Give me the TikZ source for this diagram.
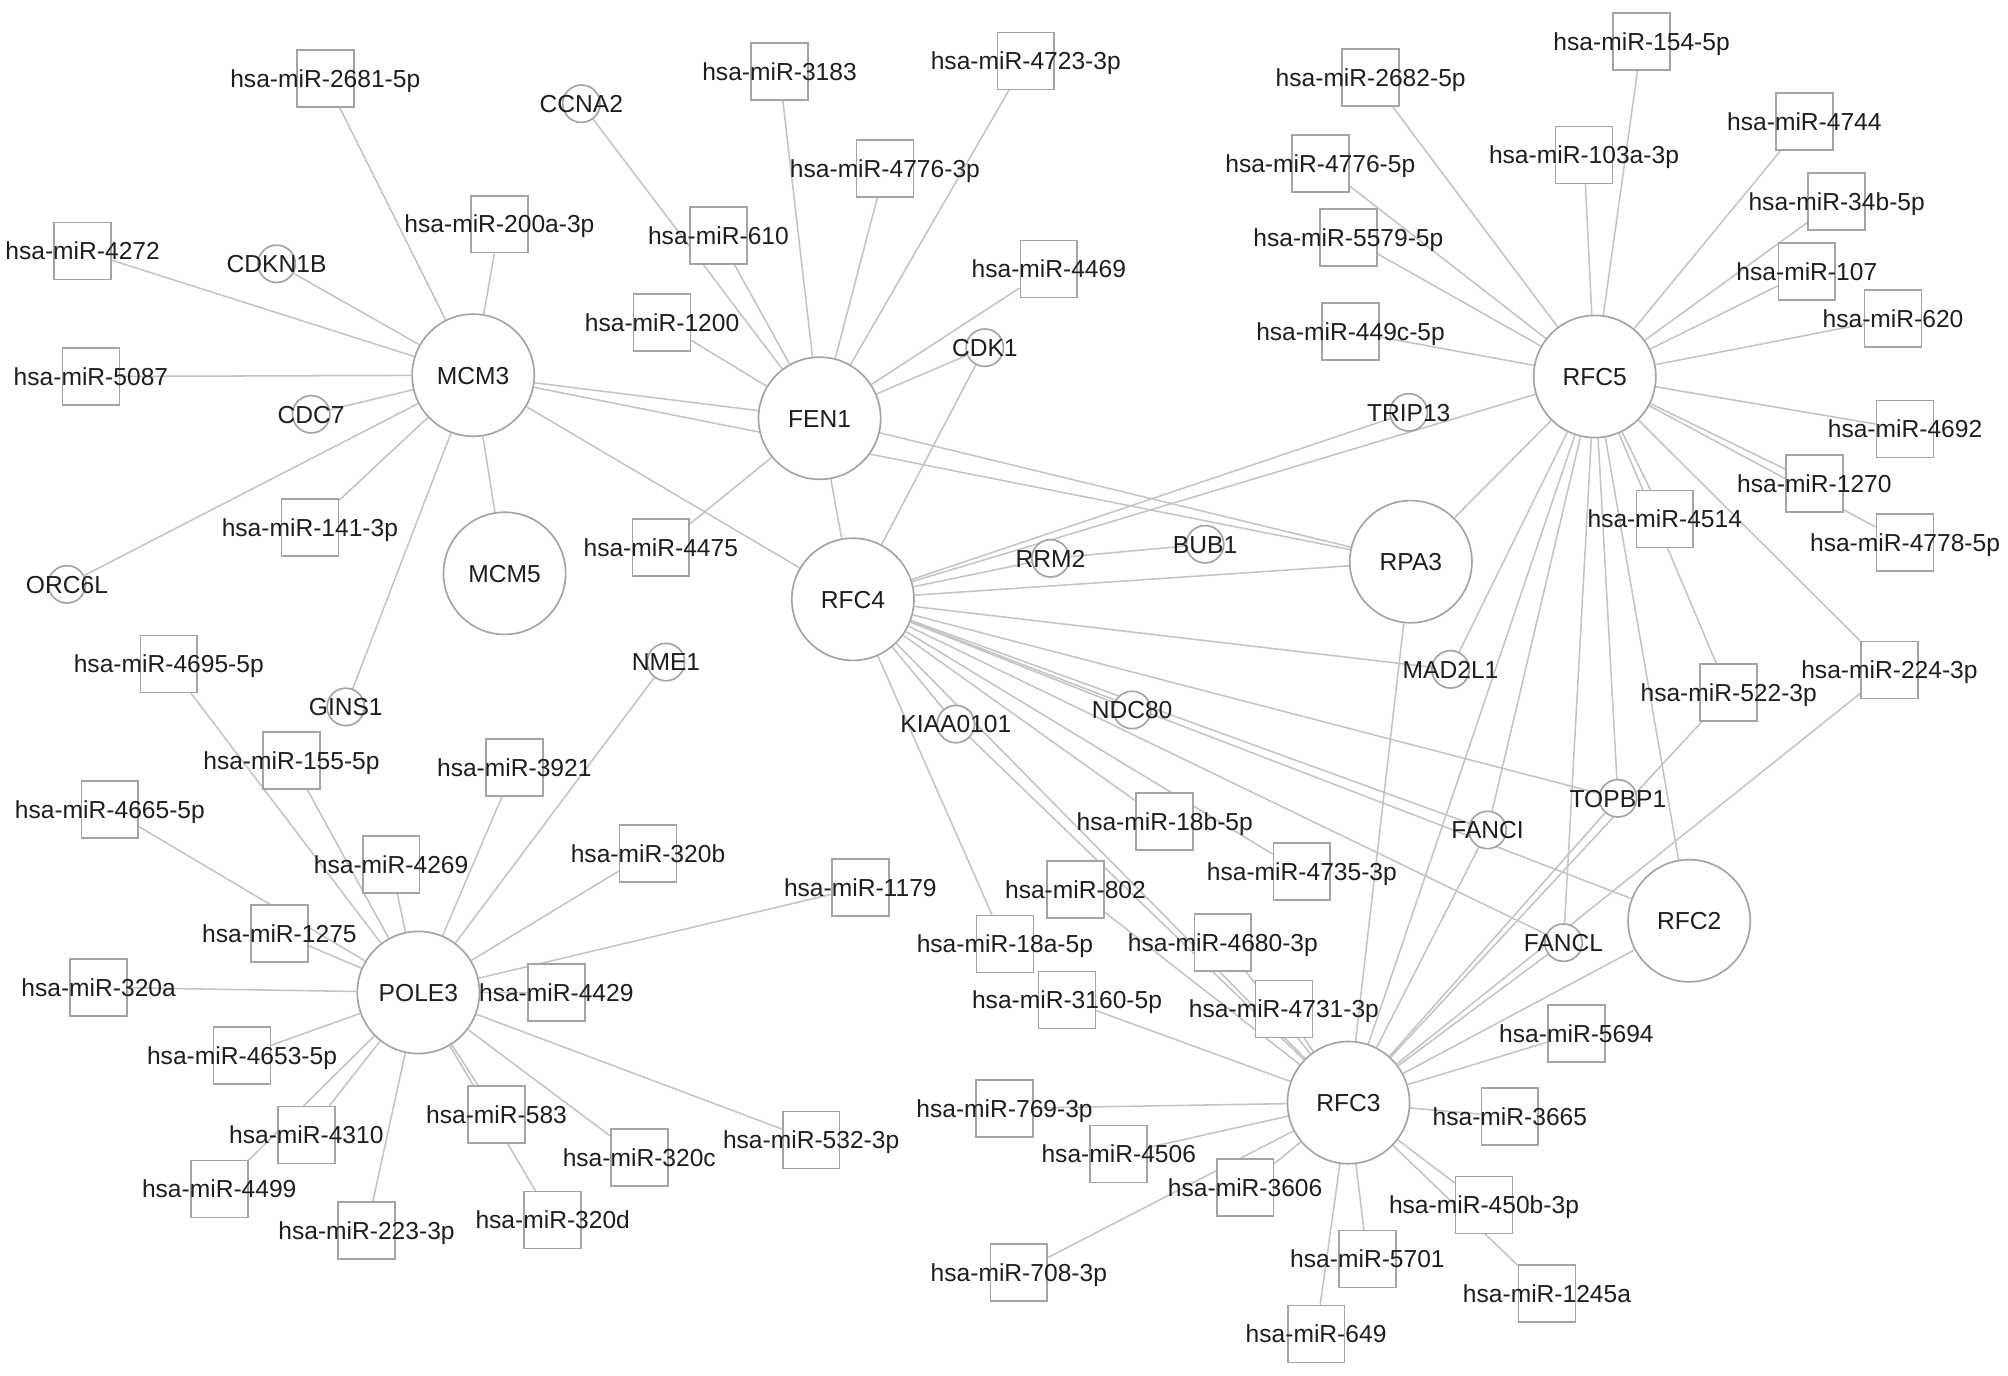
\documentclass[tikz,border=0pt]{standalone}
\usepackage{fontspec}
\setmainfont{Liberation Sans}
\definecolor{ndgray}{HTML}{A4A4A4}
\definecolor{edgray}{HTML}{C4C4C4}
\definecolor{txtgray}{HTML}{1E1E1E}
\pgfdeclarelayer{bg}
\pgfdeclarelayer{fg}
\pgfsetlayers{bg,main,fg}
\tikzset{
  hubc/.style={circle, draw=ndgray, fill=white, line width=0.65pt, minimum size=47.7pt, inner sep=0pt},
  genec/.style={circle, draw=ndgray, fill=white, line width=0.65pt, minimum size=14.6pt, inner sep=0pt},
  mirbox/.style={rectangle, draw=ndgray, fill=white, line width=0.65pt, minimum size=22.2pt, inner sep=0pt},
  lab/.style={inner sep=0pt, text=txtgray, font=\fontsize{9.6}{11}\selectfont, text height=6.9pt, text depth=0pt},
  lnk/.style={draw=edgray, line width=0.6pt},
}
\newcommand\hubn[3]{\node[hubc] (#1) at (#2) {};\begin{pgfonlayer}{fg}\node[lab] (#1-t) at (#2) {#3};\end{pgfonlayer}}
\newcommand\genen[3]{\node[genec] (#1) at (#2) {};\begin{pgfonlayer}{fg}\node[lab] (#1-t) at (#2) {#3};\end{pgfonlayer}}
\newcommand\mirn[3]{\node[mirbox] (#1) at (#2) {};\begin{pgfonlayer}{fg}\node[lab] (#1-t) at (#2) {#3};\end{pgfonlayer}}
\begin{document}
\begin{tikzpicture}[x=0.5pt,y=-0.5pt]
\useasboundingbox (0,0) rectangle (1568,1074);
\begin{pgfonlayer}{bg}
\fill[white] (0,0) rectangle (1568,1074);
\end{pgfonlayer}
% hubs
\hubn{MCM3}{369.5,293}{MCM3}
\hubn{FEN1}{640,326.6}{FEN1}
\hubn{MCM5}{394,447.7}{MCM5}
\hubn{RFC4}{666,468}{RFC4}
\hubn{RPA3}{1101.7,438.6}{RPA3}
\hubn{RFC5}{1245.3,294}{RFC5}
\hubn{RFC2}{1319,719}{RFC2}
\hubn{RFC3}{1053,861}{RFC3}
\hubn{POLE3}{326.7,775}{POLE3}
% genes
\genen{CCNA2}{454,81}{CCNA2}
\genen{CDKN1B}{216,206}{CDKN1B}
\genen{CDC7}{243,323.5}{CDC7}
\genen{ORC6L}{52.3,456.3}{ORC6L}
\genen{GINS1}{270,552}{GINS1}
\genen{NME1}{520,517}{NME1}
\genen{CDK1}{769,271.5}{CDK1}
\genen{TRIP13}{1100,322}{TRIP13}
\genen{RRM2}{820.3,436}{RRM2}
\genen{BUB1}{941,425}{BUB1}
\genen{MAD2L1}{1132.7,522.7}{MAD2L1}
\genen{NDC80}{884,554.4}{NDC80}
\genen{KIAA0101}{746.4,565.4}{KIAA0101}
\genen{TOPBP1}{1263.4,623.4}{TOPBP1}
\genen{FANCI}{1161.6,648.1}{FANCI}
\genen{FANCL}{1220.9,736.1}{FANCL}
% miRNAs
\mirn{m2681}{254,61.4}{hsa-miR-2681-5p}
\mirn{m200a}{390,175}{hsa-miR-200a-3p}
\mirn{m4272}{64.5,196}{hsa-miR-4272}
\mirn{m5087}{71,294}{hsa-miR-5087}
\mirn{m141}{242,412}{hsa-miR-141-3p}
\mirn{m1200}{517,252}{hsa-miR-1200}
\mirn{m610}{561,184}{hsa-miR-610}
\mirn{m3183}{608.7,56}{hsa-miR-3183}
\mirn{m4723}{801,47.6}{hsa-miR-4723-3p}
\mirn{m4776t}{691,131.7}{hsa-miR-4776-3p}
\mirn{m4469}{819,210}{hsa-miR-4469}
\mirn{m4475}{516,427.7}{hsa-miR-4475}
\mirn{m2682}{1070.3,60.4}{hsa-miR-2682-5p}
\mirn{m154}{1281.9,32.3}{hsa-miR-154-5p}
\mirn{m103a}{1236.9,121}{hsa-miR-103a-3p}
\mirn{m4744}{1409,95}{hsa-miR-4744}
\mirn{m4776f}{1031,127.5}{hsa-miR-4776-5p}
\mirn{m34b}{1434.2,157.2}{hsa-miR-34b-5p}
\mirn{m5579}{1052.9,185.3}{hsa-miR-5579-5p}
\mirn{m107}{1410.9,212}{hsa-miR-107}
\mirn{m620}{1478.2,248.6}{hsa-miR-620}
\mirn{m449c}{1054.6,259}{hsa-miR-449c-5p}
\mirn{m4692}{1487.6,335}{hsa-miR-4692}
\mirn{m1270}{1416.8,377.4}{hsa-miR-1270}
\mirn{m4514}{1300,405.3}{hsa-miR-4514}
\mirn{m4778}{1487.6,423.8}{hsa-miR-4778-5p}
\mirn{m224}{1475.4,523.2}{hsa-miR-224-3p}
\mirn{m522}{1349.9,540.9}{hsa-miR-522-3p}
\mirn{m4695}{131.8,518.5}{hsa-miR-4695-5p}
\mirn{m155}{227.6,594}{hsa-miR-155-5p}
\mirn{m3921}{401.6,599.5}{hsa-miR-3921}
\mirn{m4665}{85.8,632}{hsa-miR-4665-5p}
\mirn{m4269}{305.4,675.2}{hsa-miR-4269}
\mirn{m320b}{506,666.4}{hsa-miR-320b}
\mirn{m1179}{671.8,693}{hsa-miR-1179}
\mirn{m1275}{218.2,728.8}{hsa-miR-1275}
\mirn{m320a}{77,771}{hsa-miR-320a}
\mirn{m4429}{434.4,775}{hsa-miR-4429}
\mirn{m4653}{189,824.4}{hsa-miR-4653-5p}
\mirn{m583}{387.7,870.2}{hsa-miR-583}
\mirn{m4310}{239.2,886.3}{hsa-miR-4310}
\mirn{m320c}{499.2,904}{hsa-miR-320c}
\mirn{m4499}{171.2,928.5}{hsa-miR-4499}
\mirn{m320d}{431.6,952.7}{hsa-miR-320d}
\mirn{m223}{286.2,961}{hsa-miR-223-3p}
\mirn{m532}{633.4,890.2}{hsa-miR-532-3p}
\mirn{m18b}{909.5,641.6}{hsa-miR-18b-5p}
\mirn{m4735}{1016.6,680.7}{hsa-miR-4735-3p}
\mirn{m802}{839.8,694.5}{hsa-miR-802}
\mirn{m18a}{784.7,737.2}{hsa-miR-18a-5p}
\mirn{m4680}{954.9,735.9}{hsa-miR-4680-3p}
\mirn{m3160}{833.2,780.9}{hsa-miR-3160-5p}
\mirn{m4731}{1002.6,787.9}{hsa-miR-4731-3p}
\mirn{m769}{784.4,865.5}{hsa-miR-769-3p}
\mirn{m4506}{873.6,901.2}{hsa-miR-4506}
\mirn{m3606}{972.3,927.4}{hsa-miR-3606}
\mirn{m708}{795.6,993.6}{hsa-miR-708-3p}
\mirn{m649}{1027.7,1041.7}{hsa-miR-649}
\mirn{m5694}{1231,806.9}{hsa-miR-5694}
\mirn{m3665}{1179,872}{hsa-miR-3665}
\mirn{m450b}{1158.8,941}{hsa-miR-450b-3p}
\mirn{m5701}{1067.8,983.1}{hsa-miR-5701}
\mirn{m1245a}{1208,1010}{hsa-miR-1245a}
% edges
\begin{pgfonlayer}{bg}
\foreach \a/\b in {MCM3/m2681, MCM3/m200a, MCM3/m4272, MCM3/CDKN1B, MCM3/m5087, MCM3/CDC7, MCM3/ORC6L, MCM3/m141, MCM3/GINS1, MCM3/MCM5, MCM3/FEN1, MCM3/RPA3, MCM3/RFC4,
  FEN1/CCNA2, FEN1/m3183, FEN1/m4776t, FEN1/m4723, FEN1/m610, FEN1/m1200, FEN1/m4469, FEN1/CDK1, FEN1/m4475, FEN1/RFC4, FEN1/RPA3,
  RFC4/CDK1, RFC4/TRIP13, RFC4/RFC5, RFC4/RRM2, RRM2/BUB1, RFC4/RPA3, RFC4/MAD2L1, RFC4/TOPBP1, RFC4/NDC80, RFC4/FANCI, RFC4/RFC2, RFC4/FANCL, RFC4/m18b, RFC4/m4735, RFC4/KIAA0101, RFC4/m18a, RFC4/RFC3,
  RFC5/m2682, RFC5/m154, RFC5/m103a, RFC5/m4744, RFC5/m4776f, RFC5/m5579, RFC5/m34b, RFC5/m107, RFC5/m620, RFC5/m449c, RFC5/m4692, RFC5/m1270, RFC5/m4778, RFC5/m4514, RFC5/m522, RFC5/m224, RFC5/RPA3, RFC5/MAD2L1, RFC5/FANCI, RFC5/TOPBP1, RFC5/RFC2, RFC5/FANCL, RFC5/RFC3,
  RFC3/RPA3, RFC3/FANCI, RFC3/TOPBP1, RFC3/m522, RFC3/FANCL, RFC3/m224, RFC3/RFC2, RFC3/m5694, RFC3/m3665, RFC3/m450b, RFC3/m1245a, RFC3/m5701, RFC3/m649, RFC3/m3606, RFC3/m708, RFC3/m4506, RFC3/m769, RFC3/m3160, RFC3/m4731, RFC3/m4680, RFC3/m802, RFC3/KIAA0101,
  POLE3/m4695, POLE3/m155, POLE3/m4665, POLE3/m1275, POLE3/m4269, POLE3/m3921, POLE3/NME1, POLE3/m320b, POLE3/m1179, POLE3/m4429, POLE3/m320a, POLE3/m4653, POLE3/m4310, POLE3/m4499, POLE3/m223, POLE3/m583, POLE3/m320d, POLE3/m320c, POLE3/m532}
  \draw[lnk] (\a) -- (\b);
\end{pgfonlayer}
\end{tikzpicture}
\end{document}
